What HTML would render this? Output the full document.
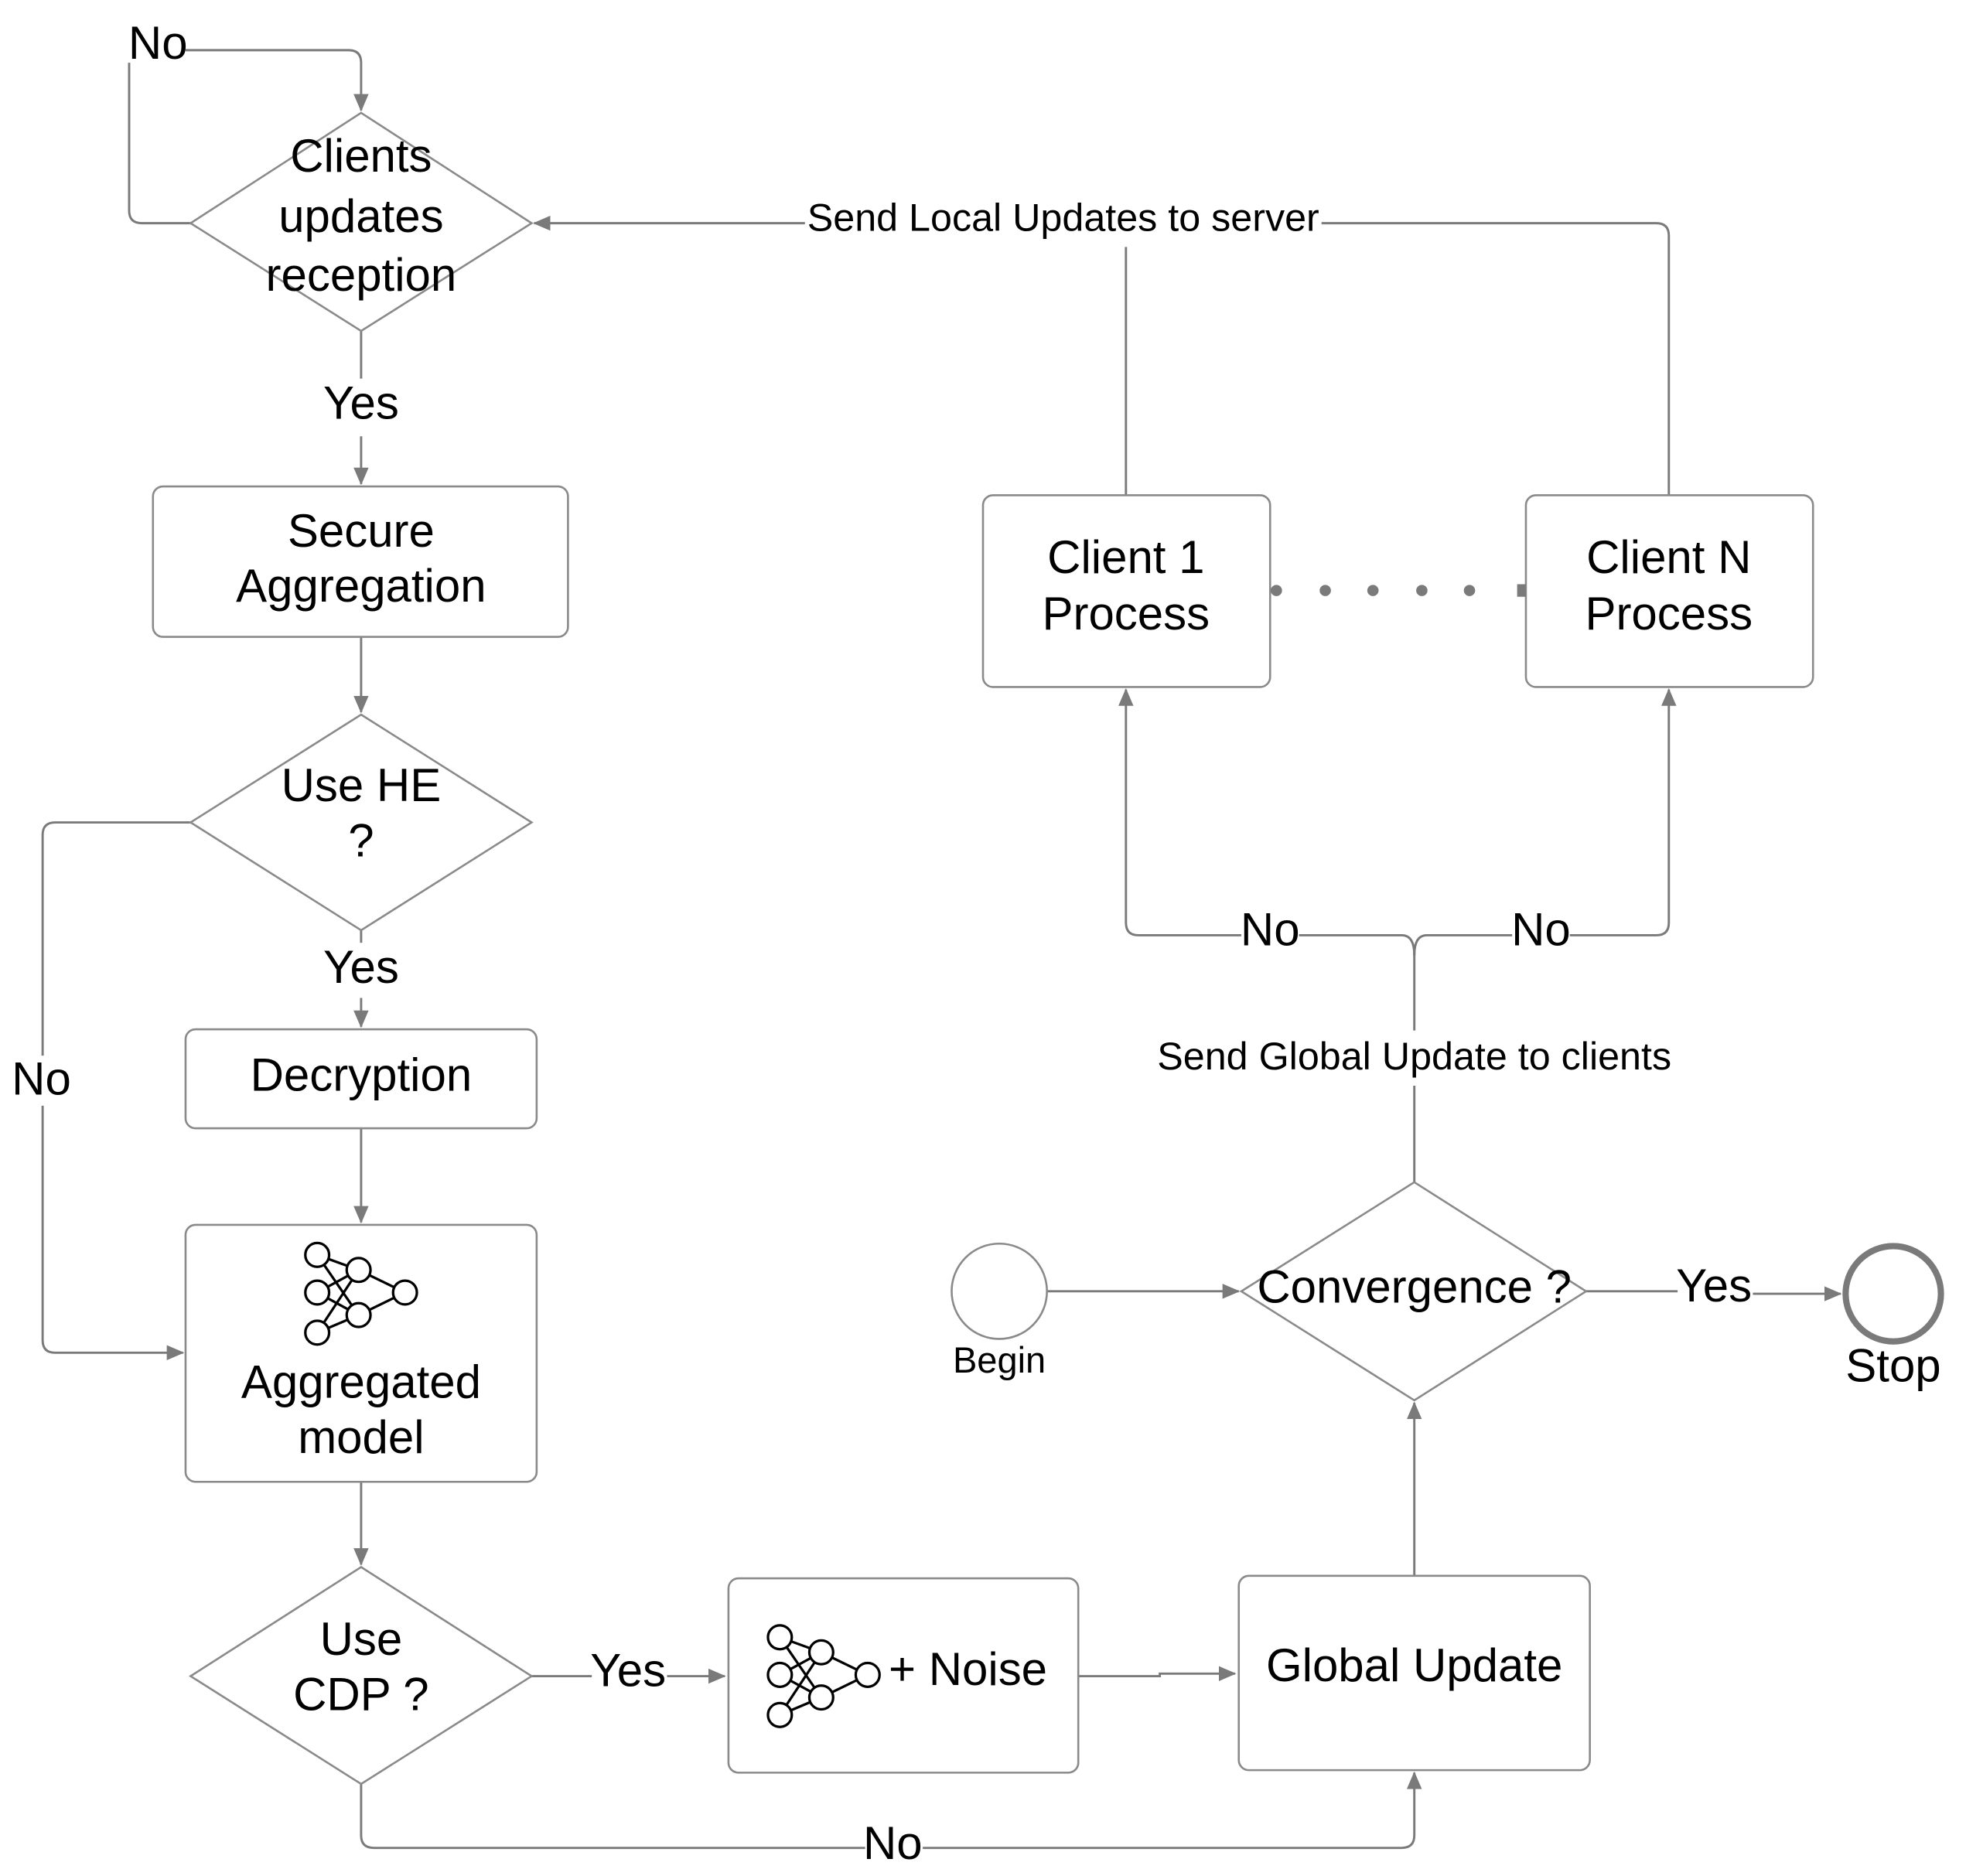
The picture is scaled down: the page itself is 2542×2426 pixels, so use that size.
<!DOCTYPE html>
<html><head><meta charset="utf-8"><style>
html,body{margin:0;padding:0;background:#fff;}
svg{display:block;}
text{font-family:"Liberation Sans",sans-serif;fill:#000;}
</style></head><body>
<svg width="2542" height="2426" viewBox="0 0 1568 1496.4" xmlns="http://www.w3.org/2000/svg">
<defs>
<marker id="a" markerWidth="14" markerHeight="12" refX="13" refY="6" orient="auto" markerUnits="userSpaceOnUse" viewBox="0 0 14 12">
<path d="M0,0 L14,6 L0,12 z" fill="#7a7a7a"/></marker>
<g id="nn" fill="#fff" stroke="#000" stroke-width="2">
<line x1="10" y1="10" x2="43" y2="22"/><line x1="10" y1="10" x2="43" y2="58"/>
<line x1="10" y1="40" x2="43" y2="22"/><line x1="10" y1="40" x2="43" y2="58"/>
<line x1="10" y1="72" x2="43" y2="22"/><line x1="10" y1="72" x2="43" y2="58"/>
<line x1="43" y1="22" x2="80" y2="40"/><line x1="43" y1="58" x2="80" y2="40"/>
<circle cx="10" cy="10" r="9.5"/><circle cx="10" cy="40" r="9.5"/><circle cx="10" cy="72" r="9.5"/>
<circle cx="43" cy="22" r="9.5"/><circle cx="43" cy="58" r="9.5"/><circle cx="80" cy="40" r="9.5"/>
</g>
</defs>
<g fill="none" stroke="#7a7a7a" stroke-width="1.8">
<path d="M152,178 H113 Q103,178 103,168 V50"/>
<path d="M148,40 H278 Q288,40 288,50 V88" marker-end="url(#a)"/>
<path d="M1331,395 V188 Q1331,178 1321,178 H1054"/>
<path d="M642,178 H426" marker-end="url(#a)"/>
<path d="M898,395 V197"/>
<path d="M288,264 V302"/><path d="M288,348 V386" marker-end="url(#a)"/>
<path d="M288,508 V568" marker-end="url(#a)"/>
<path d="M152,656 H44 Q34,656 34,666 V842"/><path d="M34,882 V1069 Q34,1079 44,1079 H146" marker-end="url(#a)"/>
<path d="M288,742 V752"/><path d="M288,796 V819" marker-end="url(#a)"/>
<path d="M288,900 V975" marker-end="url(#a)"/>
<path d="M288,1182 V1248" marker-end="url(#a)"/>
<path d="M424,1337 H472"/><path d="M532,1337 H578" marker-end="url(#a)"/>
<path d="M860,1337 H925 V1335 H985" marker-end="url(#a)"/>
<path d="M288,1423 V1464 Q288,1474 298,1474 H690"/>
<path d="M736,1474 H1118 Q1128,1474 1128,1464 V1414" marker-end="url(#a)"/>
<path d="M1128,1257 V1119" marker-end="url(#a)"/>
<path d="M835,1030 H988" marker-end="url(#a)"/>
<path d="M1265,1030 H1338"/><path d="M1398,1032 H1468" marker-end="url(#a)"/>
<path d="M1128,943 V866"/><path d="M1128,822 V758"/>
<path d="M1128,762 Q1128,746 1118,746 H1036"/><path d="M990,746 H908 Q898,746 898,736 V550" marker-end="url(#a)"/>
<path d="M1128,762 Q1128,746 1138,746 H1206"/><path d="M1252,746 H1321 Q1331,746 1331,736 V550" marker-end="url(#a)"/>
</g>
<g fill="#fff" stroke="#8a8a8a" stroke-width="1.6">
<path d="M288,90 L424,178 L288,264 L152,178 Z"/>
<rect x="122" y="388" width="331" height="120" rx="8"/>
<path d="M288,570 L424,656 L288,742 L152,656 Z"/>
<rect x="148" y="821" width="280" height="79" rx="8"/>
<rect x="148" y="977" width="280" height="205" rx="8"/>
<path d="M288,1250 L424,1337 L288,1423 L152,1337 Z"/>
<rect x="581" y="1259" width="279" height="155" rx="8"/>
<rect x="988" y="1257" width="280" height="155" rx="8"/>
<path d="M1128,943 L1265,1030 L1128,1117 L990,1030 Z"/>
<rect x="784" y="395" width="229" height="153" rx="8"/>
<rect x="1217" y="395" width="229" height="153" rx="8"/>
<circle cx="797" cy="1030" r="38"/>
</g>
<circle cx="1510" cy="1032" r="38" fill="#fff" stroke="#7a7a7a" stroke-width="5"/>
<g fill="#7a7a7a"><circle cx="1018" cy="471" r="4.5"/><circle cx="1057" cy="471" r="4.5"/><circle cx="1095" cy="471" r="4.5"/><circle cx="1134" cy="471" r="4.5"/><circle cx="1172" cy="471" r="4.5"/><rect x="1210" y="466" width="7" height="10"/></g>
<use href="#nn" x="243" y="991"/>
<use href="#nn" x="612" y="1296"/>
<g font-size="37" text-anchor="middle">
<text x="288" y="137">Clients</text><text x="288" y="185">updates</text><text x="288" y="232">reception</text>
<text x="288" y="436">Secure</text><text x="288" y="480">Aggregation</text>
<text x="288" y="639">Use HE</text><text x="288" y="683">?</text>
<text x="288" y="870">Decryption</text>
<text x="288" y="1115">Aggregated</text><text x="288" y="1159">model</text>
<text x="288" y="1320">Use</text><text x="288" y="1364">CDP ?</text>
<text x="772" y="1344">+ Noise</text>
<text x="1128" y="1341">Global Update</text>
<text x="1128" y="1039">Convergence ?</text>
<text x="898" y="457">Client 1</text><text x="898" y="502">Process</text>
<text x="1331" y="457">Client N</text><text x="1331" y="502">Process</text>
<text x="1510" y="1102">Stop</text>
<text x="126" y="47">No</text>
<text x="288" y="334">Yes</text>
<text x="288" y="784">Yes</text>
<text x="33" y="873">No</text>
<text x="501" y="1345">Yes</text>
<text x="712" y="1483">No</text>
<text x="1367" y="1038">Yes</text>
<text x="1013" y="754">No</text>
<text x="1229" y="754">No</text>
</g>
<g font-size="31" text-anchor="middle">
<text x="848" y="184">Send Local Updates to server</text>
<text x="1128" y="853">Send Global Update to clients</text>
<text x="797" y="1095" font-size="29">Begin</text>
</g>
</svg>
</body></html>
